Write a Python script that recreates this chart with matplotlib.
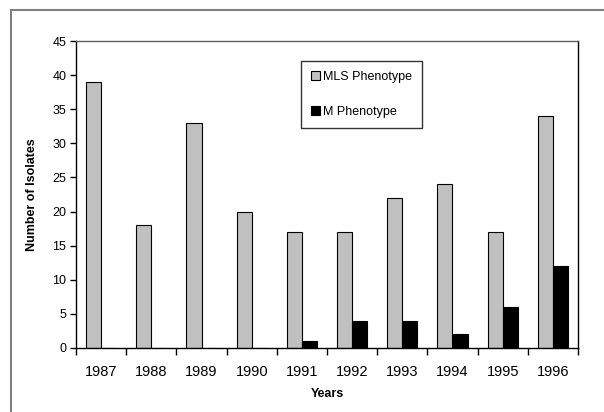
import numpy as np
import matplotlib
matplotlib.use("Agg")
import matplotlib.pyplot as plt
from matplotlib.patches import Rectangle

plt.rcParams['font.family'] = ['Liberation Sans', 'DejaVu Sans']

years = ['1987', '1988', '1989', '1990', '1991', '1992', '1993', '1994', '1995', '1996']
mls = [39, 18, 33, 20, 17, 17, 22, 24, 17, 34]
m = [0, 0, 0, 0, 1, 4, 4, 2, 6, 12]

fig = plt.figure(figsize=(6.04, 4.12), dpi=100)

# outer chart frame (runs off the right and bottom edge)
fig.patches.append(Rectangle((11 / 604, -0.1), 1.2, 1 - 10 / 412 + 0.1, transform=fig.transFigure,
                             fill=False, edgecolor='#808080', linewidth=1.5))

ax = fig.add_axes([76 / 604, 1 - 348 / 412, 502 / 604, 307 / 412])

x = np.arange(len(years))
w = 0.3
ax.bar(x - w / 2, mls, w, color='#c0c0c0', edgecolor='black', linewidth=0.8, label='MLS Phenotype')
ax.bar(x + w / 2, m, w, color='black', edgecolor='black', linewidth=0.8, label='M Phenotype')

ax.set_xlim(-0.5, len(years) - 0.5)
ax.set_ylim(0, 45)
ax.set_yticks(range(0, 46, 5))
ax.set_xticks(x)
ax.set_xticklabels(years, fontsize=10.5)
ax.tick_params(axis='x', length=0, pad=12)
ax.set_xticks(np.arange(-0.5, len(years), 1), minor=True)
ax.tick_params(axis='x', which='minor', length=5, width=1)
ax.tick_params(axis='y', labelsize=9, length=4, width=1, pad=3)

for s in ax.spines.values():
    s.set_linewidth(1)
ax.spines['top'].set_color('#606060')

ax.set_xlabel('Years', fontsize=9, fontweight='bold', labelpad=7)
ax.set_ylabel('Number of Isolates', fontsize=9, fontweight='bold', labelpad=10)

leg = ax.legend(loc='upper left', bbox_to_anchor=(301 / 604, 1 - 61 / 412), bbox_transform=fig.transFigure,
                fontsize=9, frameon=True, fancybox=False, handlelength=0.75, handleheight=0.75,
                handletextpad=0.2, labelspacing=1.8, borderpad=0.8, borderaxespad=0)
leg.get_frame().set_edgecolor('black')
leg.get_frame().set_linewidth(1)

fig.savefig('out.png', dpi=100)
